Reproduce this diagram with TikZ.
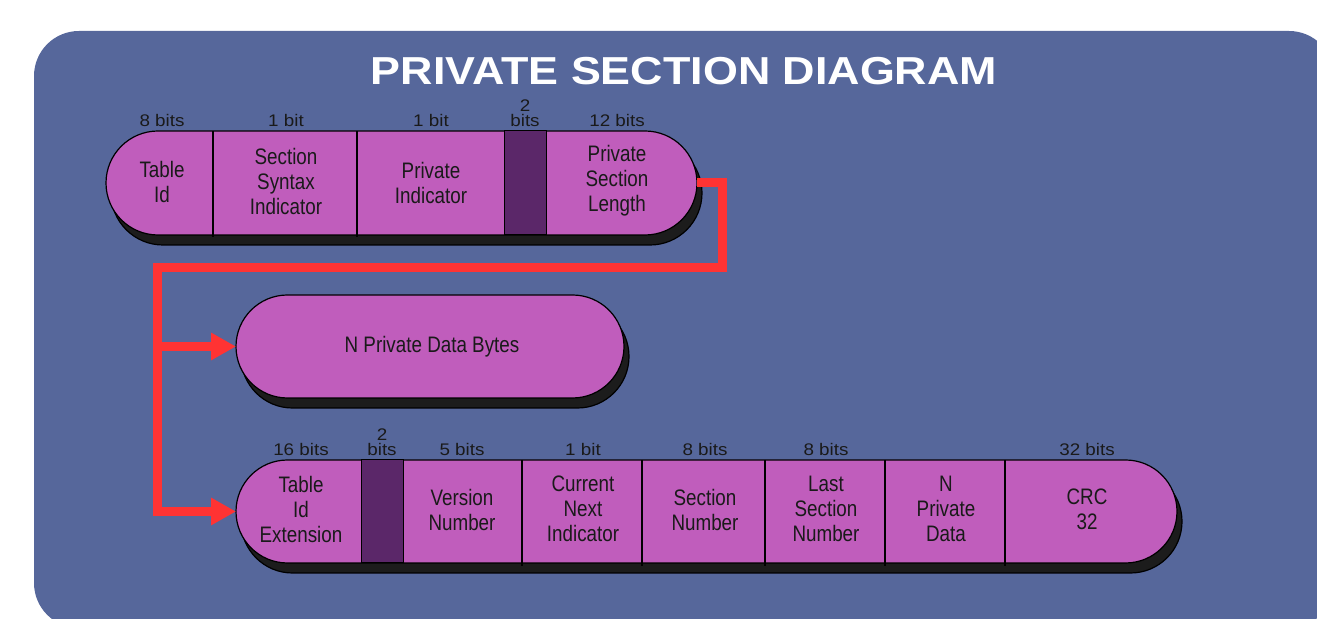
\documentclass[tikz,border=0pt]{standalone}
\usepackage{fontspec}
\usetikzlibrary{shapes.misc,shadows,arrows.meta}
\newfontfamily\titlefont[FakeStretch=1.15]{Liberation Sans}
\newfontfamily\cellfont[FakeStretch=0.84]{Liberation Sans}
\newfontfamily\bitsfont[FakeStretch=1.12]{Liberation Sans}
\definecolor{panelblue}{RGB}{86,103,155}
\definecolor{fieldpink}{RGB}{192,93,188}
\definecolor{reservedpurple}{RGB}{91,39,105}
\definecolor{linkred}{RGB}{255,51,51}
\definecolor{shadowgray}{RGB}{28,28,28}
\definecolor{inkblack}{RGB}{26,26,26}

\begin{document}
\begin{tikzpicture}[x=0.5pt, y=-0.5pt,
    bar/.style ={rounded rectangle, draw=black, line width=0.6pt, fill=fieldpink,
      inner sep=0pt, outer sep=0pt,
      drop shadow={shadow xshift=2.5pt, shadow yshift=-5pt, fill=shadowgray, draw=black, opacity=1}},
    reservedcell/.style ={draw=black, line width=0.5pt, fill=reservedpurple},
    divider/.style ={black, line width=1pt},
    celltext/.style ={align=center, text=inkblack, inner sep=0pt,
      font=\cellfont\fontsize{11.2pt}{12.5pt}\selectfont},
    bitlabel/.style ={align=center, anchor=south, text=inkblack, inner sep=0pt,
      font=\bitsfont\fontsize{8.4pt}{7.6pt}\selectfont},
    redline/.style ={linkred, line width=4.5pt, -{Triangle[length=12.5pt, width=13pt]}}]
   \useasboundingbox (0,0) rectangle (1317,619);
   \fill[panelblue, rounded corners=22.5pt] (34,31) rectangle (1334,628);

   \node[text=white, inner sep=0pt, font=\titlefont\bfseries\fontsize{19.5pt}{22pt}\selectfont]
     (title) at (684,71) {PRIVATE SECTION DIAGRAM};

   % first part of the section
   \node[bar, minimum width=295.5pt, minimum height=52pt] (topbar) at (401.5,183) {};
   \draw[reservedcell] (504,131) rectangle (546,235);
   \draw[divider] (213,131) -- (213,237);
   \draw[divider] (357,131) -- (357,237);

   \node[bitlabel] (tidbits)  at (162,127) {8 bits};
   \node[bitlabel] (ssibits)  at (286,127) {1 bit};
   \node[bitlabel] (pibits)   at (431,127) {1 bit};
   \node[bitlabel] (rsvbits)  at (525,127) {2\\bits};
   \node[bitlabel] (pslbits)  at (617,127) {12 bits};

   \node[celltext] (tid) at (162,182) {Table\\Id};
   \node[celltext] (ssi) at (286,181) {Section\\Syntax\\Indicator};
   \node[celltext] (pi)  at (431,183) {Private\\Indicator};
   \node[celltext] (psl) at (617,181) {Private\\Section\\Length};

   % private data bytes
   \node[bar, minimum width=194pt, minimum height=51.5pt] (databar) at (430,346.5) {};
   \node[celltext] (pdb) at (432,347) {N Private Data Bytes};

   % long form of the section
   \node[bar, minimum width=470.5pt, minimum height=51.5pt] (btmbar) at (706.5,511.5) {};
   \draw[reservedcell] (361,460) rectangle (403,563);
   \draw[divider] (522,460) -- (522,566);
   \draw[divider] (642,460) -- (642,566);
   \draw[divider] (765,460) -- (765,566);
   \draw[divider] (885,460) -- (885,566);
   \draw[divider] (1005,460) -- (1005,566);

   \node[bitlabel] (tidxbits) at (301,456) {16 bits};
   \node[bitlabel] (rsvbitsb) at (382,456) {2\\bits};
   \node[bitlabel] (vnbits)   at (462,456) {5 bits};
   \node[bitlabel] (cnibits)  at (583,456) {1 bit};
   \node[bitlabel] (snbits)   at (705,456) {8 bits};
   \node[bitlabel] (lsnbits)  at (826,456) {8 bits};
   \node[bitlabel] (crcbits)  at (1087,456) {32 bits};

   \node[celltext] (tidx) at (301,509) {Table\\Id\\Extension};
   \node[celltext] (vn)   at (462,510) {Version\\Number};
   \node[celltext] (cni)  at (583,509) {Current\\Next\\Indicator};
   \node[celltext] (sn)   at (705,510) {Section\\Number};
   \node[celltext] (lsn)  at (826,509) {Last\\Section\\Number};
   \node[celltext] (npd)  at (946,509) {N\\Private\\Data};
   \node[celltext] (crc)  at (1087,509) {CRC\\32};

   % length links
   \coordinate (bend) at (722,268);
   \coordinate (spine) at (157,268);
   \draw[redline] (topbar.east) -| (bend) -- (spine) |- (btmbar.west);
   \draw[redline] (spine |- databar.west) -- (databar.west);
 \end{tikzpicture}
\end{document}
